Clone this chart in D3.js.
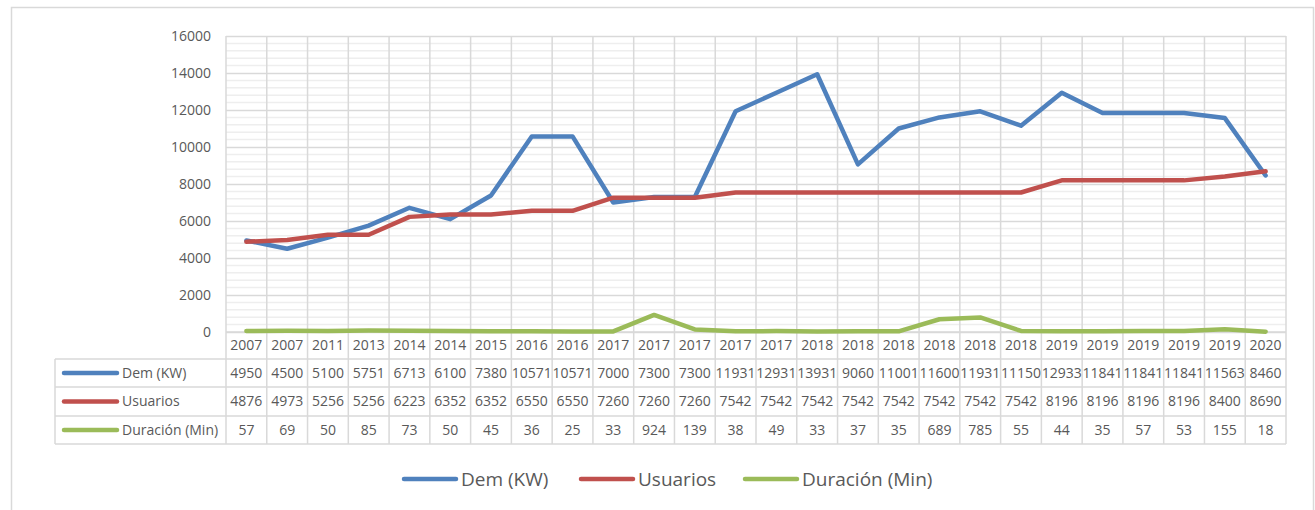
<!DOCTYPE html>
<html>
<head>
<meta charset="utf-8">
<script src="https://cdn.jsdelivr.net/npm/d3@7"></script>
<style>
  html, body { margin: 0; padding: 0; background: #ffffff; }
  svg { display: block; font-family: "Open Sans", sans-serif; }
</style>
</head>
<body>
<svg id="chart" width="1315" height="510"></svg>
<script>
// ---- data ----
const years = ["2007","2007","2011","2013","2014","2014","2015","2016","2016","2017","2017","2017","2017","2017","2018","2018","2018","2018","2018","2018","2019","2019","2019","2019","2019","2020"];
const demKW = [4950,4500,5100,5751,6713,6100,7380,10571,10571,7000,7300,7300,11931,12931,13931,9060,11001,11600,11931,11150,12933,11841,11841,11841,11563,8460];
const usuarios = [4876,4973,5256,5256,6223,6352,6352,6550,6550,7260,7260,7260,7542,7542,7542,7542,7542,7542,7542,7542,8196,8196,8196,8196,8400,8690];
const duracion = [57,69,50,85,73,50,45,36,25,33,924,139,38,49,33,37,35,689,785,55,44,35,57,53,155,18];
const seriesNames = ["Dem (KW)", "Usuarios", "Duración (Min)"];
const seriesColors = ["#4F81BD", "#C0504D", "#9BBB59"];
const yTicks = [0,2000,4000,6000,8000,10000,12000,14000,16000];
const yMinorStep = 400;

const series = [demKW, usuarios, duracion];

// ---- layout ----
const svg = d3.select("#chart");
const pLeft = 226, pRight = 1286, pTop = 36, pBottom = 332;
const tableLeft = 55;
const rowH = [27, 28, 29, 28]; // year row, then series rows
const textColor = "#595959";
const gridMajor = "#d9d9d9";
const gridMinor = "#eeeeee";

// outer chart border
svg.append("rect")
  .attr("x", 11.5).attr("y", 7.5)
  .attr("width", 1302).attr("height", 520)
  .attr("fill", "none").attr("stroke", "#d9d9d9").attr("stroke-width", 1.5);

const x = d3.scaleBand().domain(d3.range(years.length)).range([pLeft, pRight]).padding(0);
const bw = x.bandwidth();
const cx = i => x(i) + bw / 2;
const y = d3.scaleLinear().domain([0, 16000]).range([pBottom, pTop]);

// minor gridlines
const minorVals = d3.range(0, 16000 + 1, yMinorStep).filter(v => v % 2000 !== 0);
svg.append("g").selectAll("line").data(minorVals).join("line")
  .attr("x1", pLeft).attr("x2", pRight)
  .attr("y1", d => y(d)).attr("y2", d => y(d))
  .attr("stroke", gridMinor).attr("stroke-width", 1.5);

// major gridlines via axis
const gy = svg.append("g").attr("transform", `translate(${pLeft},0)`)
  .call(d3.axisLeft(y).tickValues(yTicks).tickSize(-(pRight - pLeft)).tickFormat(""));
gy.select(".domain").remove();
gy.selectAll(".tick line").attr("stroke", gridMajor).attr("stroke-width", 1.5);

// y labels
const yl = svg.append("g").attr("transform", `translate(211,0)`)
  .call(d3.axisLeft(y).tickValues(yTicks).tickSize(0).tickPadding(0).tickFormat(d3.format("d")));
yl.select(".domain").remove();
yl.selectAll("text").attr("fill", textColor).style("font-size", "14px")
  .style("font-family", "'Open Sans', sans-serif").attr("text-anchor", "end").attr("dy", "0.35em");

// table geometry
const rowTops = [pBottom];
for (let i = 0; i < rowH.length; i++) rowTops.push(rowTops[i] + rowH[i]);
const tableBottom = rowTops[rowTops.length - 1];

// vertical grid / table column lines
const bounds = d3.range(years.length + 1).map(i => i < years.length ? x(i) : pRight);
svg.append("g").selectAll("line").data(bounds).join("line")
  .attr("x1", d => d).attr("x2", d => d)
  .attr("y1", pTop).attr("y2", tableBottom)
  .attr("stroke", gridMajor).attr("stroke-width", 1.5);

// horizontal table lines
const tg = svg.append("g");
rowTops.slice(1).forEach(t => {
  tg.append("line").attr("x1", tableLeft).attr("x2", pRight)
    .attr("y1", t).attr("y2", t).attr("stroke", gridMajor).attr("stroke-width", 1.5);
});
tg.append("line").attr("x1", tableLeft).attr("x2", tableLeft)
  .attr("y1", rowTops[1]).attr("y2", tableBottom)
  .attr("stroke", gridMajor).attr("stroke-width", 1.5);
tg.append("line").attr("x1", pLeft).attr("x2", pRight)
  .attr("y1", pBottom).attr("y2", pBottom).attr("stroke", gridMajor).attr("stroke-width", 1.5);

// lines
const line = d3.line().x((d, i) => cx(i)).y(d => y(d));
svg.append("g").selectAll("path").data(series).join("path")
  .attr("d", d => line(d))
  .attr("fill", "none")
  .attr("stroke", (d, i) => seriesColors[i])
  .attr("stroke-width", 4.5)
  .attr("stroke-linejoin", "round")
  .attr("stroke-linecap", "round");

// table text: year row
const rowMid = r => (rowTops[r] + rowTops[r + 1]) / 2;
svg.append("g").selectAll("text").data(years).join("text")
  .attr("x", (d, i) => cx(i)).attr("y", rowMid(0)).attr("dy", "0.35em")
  .attr("text-anchor", "middle").attr("fill", textColor).style("font-size", "14px")
  .text(d => d);

// series rows
series.forEach((s, si) => {
  const r = si + 1;
  const g = svg.append("g");
  g.selectAll("text").data(s).join("text")
    .attr("x", (d, i) => cx(i)).attr("y", rowMid(r)).attr("dy", "0.35em")
    .attr("text-anchor", "middle").attr("fill", textColor).style("font-size", "14px")
    .text(d => d);
  g.append("line").attr("x1", 64).attr("x2", 117)
    .attr("y1", rowMid(r)).attr("y2", rowMid(r))
    .attr("stroke", seriesColors[si]).attr("stroke-width", 4.5).attr("stroke-linecap", "round");
  g.append("text").attr("x", 122).attr("y", rowMid(r)).attr("dy", "0.35em")
    .attr("fill", textColor).style("font-size", "14px").text(seriesNames[si]);
});

// bottom legend
const legendY = 479;
const legendItems = [
  { x1: 404, x2: 456, tx: 461 },
  { x1: 581, x2: 633, tx: 638 },
  { x1: 745, x2: 797, tx: 802 }
];
const lg = svg.append("g");
legendItems.forEach((it, i) => {
  lg.append("line").attr("x1", it.x1).attr("x2", it.x2).attr("y1", legendY).attr("y2", legendY)
    .attr("stroke", seriesColors[i]).attr("stroke-width", 4.5).attr("stroke-linecap", "round");
  lg.append("text").attr("x", it.tx).attr("y", legendY).attr("dy", "0.35em")
    .attr("fill", textColor).style("font-size", "19px").text(seriesNames[i]);
});
</script>
</body>
</html>
